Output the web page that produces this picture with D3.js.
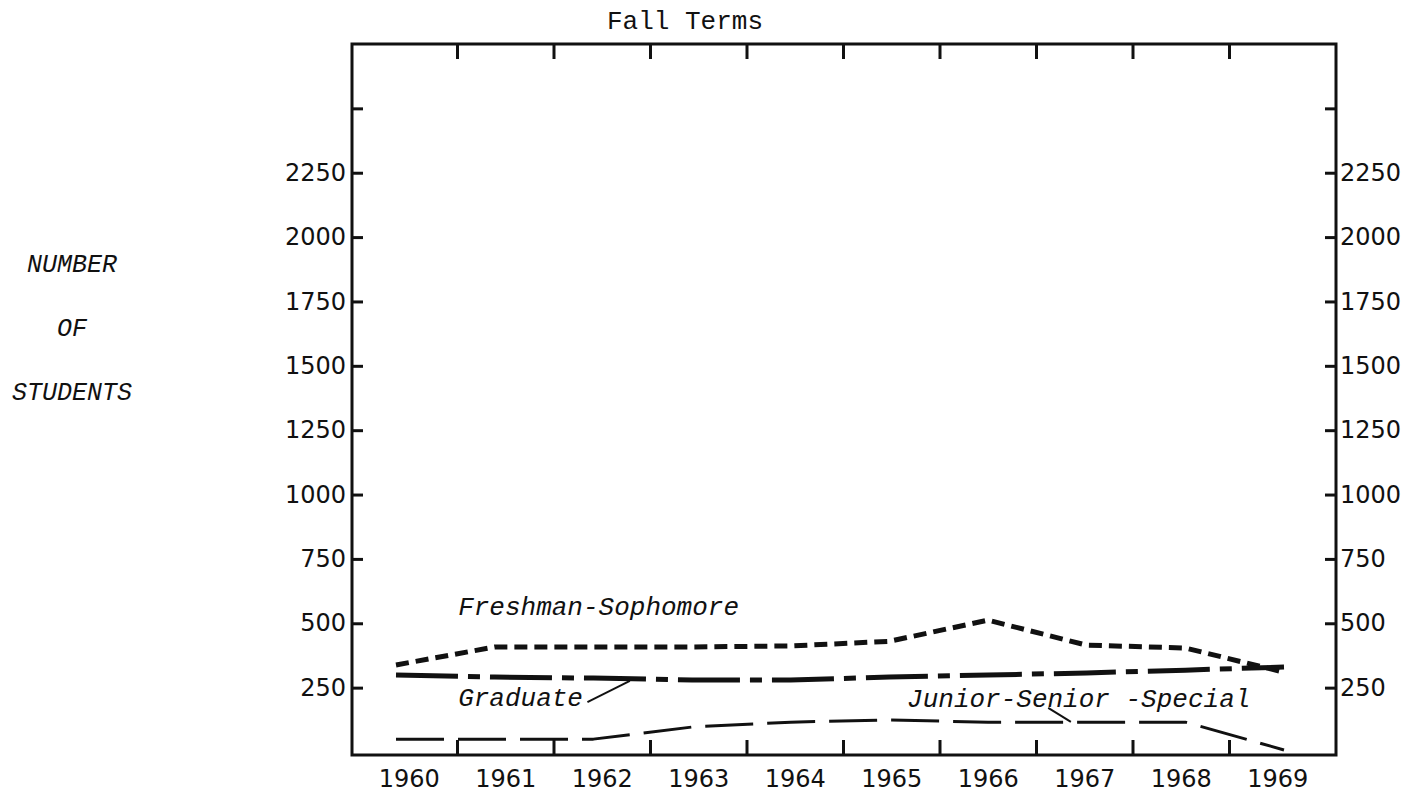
<!DOCTYPE html>
<html>
<head>
<meta charset="utf-8">
<script src="https://cdn.jsdelivr.net/npm/d3@7"></script>
<style>
  body { margin: 0; background: #fff; }
  svg { display: block; }
</style>
</head>
<body>
<script>
// data (fall terms)
const years = [1960, 1961, 1962, 1963, 1964, 1965, 1966, 1967, 1968, 1969];
const freshSoph = [338, 408, 408, 408, 412, 430, 512, 415, 404, 310];
const graduate = [299, 291, 287, 280, 280, 291, 299, 307, 318, 330];
const juniorSenior = [50, 50, 50, 97, 116, 124, 116, 116, 116, 8];

const yTickValues = [250, 500, 750, 1000, 1250, 1500, 1750, 2000, 2250, 2500];
const yTickLabels = [250, 500, 750, 1000, 1250, 1500, 1750, 2000, 2250];

const yLabelLines = ['NUMBER', 'OF', 'STUDENTS'];

// labels placed in data space (year, students)
const seriesLabels = [
  { text: 'Freshman-Sophomore', year: 1960.63, value: 532 },
  { text: 'Graduate', year: 1960.63, value: 179 },
  { text: 'Junior-Senior -Special', year: 1965.18, value: 175 }
];
const leaders = [
  { from: [1961.94, 194], to: [1962.37, 276] },
  { from: [1966.61, 171], to: [1966.84, 117] }
];

const chartWidth = 1419;
const chartHeight = 794;

const frame = { left: 352, right: 1336, top: 44, bottom: 755 };

const ink = '#111';
const monoFont = '"Liberation Mono", "DejaVu Sans Mono", monospace';
const tickFont = '"DejaVu Sans", sans-serif';

const svg = d3.select('body').append('svg')
    .attr('width', chartWidth)
    .attr('height', chartHeight);

// scales
const xBand = d3.scaleBand()
    .domain(years)
    .range([361, 1326]);

const xLine = d3.scaleLinear()
    .domain([1960, 1969])
    .range([396, 1284]);

const yScale = d3.scaleLinear()
    .domain([0, 2750])
    .range([752, 44]);

// title
svg.append('text')
    .attr('x', 685)
    .attr('y', 29)
    .attr('text-anchor', 'middle')
    .attr('font-family', monoFont)
    .attr('font-size', 26)
    .attr('fill', ink)
    .text('Fall Terms');

// y label
svg.append('g')
    .selectAll('text')
    .data(yLabelLines)
  .enter().append('text')
    .attr('x', 72)
    .attr('y', (d, i) => 272 + i * 64)
    .attr('text-anchor', 'middle')
    .attr('font-family', monoFont)
    .attr('font-style', 'italic')
    .attr('font-size', 25)
    .attr('fill', ink)
    .text(d => d);

// frame
svg.append('rect')
    .attr('x', frame.left)
    .attr('y', frame.top)
    .attr('width', frame.right - frame.left)
    .attr('height', frame.bottom - frame.top)
    .attr('fill', 'none')
    .attr('stroke', ink)
    .attr('stroke-width', 3);

// y axes, ticks pointing inwards
const fmt = d => yTickLabels.includes(d) ? d : '';

const leftAxis = svg.append('g')
    .attr('transform', `translate(${frame.left},0)`)
    .call(d3.axisLeft(yScale).tickValues(yTickValues).tickSize(-11).tickPadding(6).tickFormat(fmt));

const rightAxis = svg.append('g')
    .attr('transform', `translate(${frame.right},0)`)
    .call(d3.axisRight(yScale).tickValues(yTickValues).tickSize(-11).tickPadding(4).tickFormat(fmt));

// x axis labels
const bottomAxis = svg.append('g')
    .attr('transform', `translate(0,${frame.bottom})`)
    .call(d3.axisBottom(xBand).tickSize(0).tickPadding(15));

[leftAxis, rightAxis, bottomAxis].forEach(g => {
  g.select('.domain').remove();
  g.attr('font-family', tickFont).attr('font-size', 24);
  g.selectAll('text').attr('fill', ink);
  g.selectAll('line').attr('stroke', ink).attr('stroke-width', 3);
});

// x ticks sit between the years, on top and bottom
const boundaries = years.slice(1).map(y => xBand(y));

svg.append('g')
    .selectAll('line')
    .data(boundaries)
  .enter().append('line')
    .attr('x1', d => d)
    .attr('x2', d => d)
    .attr('y1', frame.top)
    .attr('y2', frame.top + 15)
    .attr('stroke', ink)
    .attr('stroke-width', 3);

svg.append('g')
    .selectAll('line')
    .data(boundaries)
  .enter().append('line')
    .attr('x1', d => d)
    .attr('x2', d => d)
    .attr('y1', frame.bottom)
    .attr('y2', frame.bottom - 15)
    .attr('stroke', ink)
    .attr('stroke-width', 3);

// series lines
const series = [
  { values: freshSoph, width: 5, dash: '13,7' },
  { values: graduate, width: 5, dash: '62,10,12,10' },
  { values: juniorSenior, width: 3, dash: '48,14' }
];

const line = d3.line()
    .x((d, i) => xLine(years[i]))
    .y(d => yScale(d));

svg.append('g')
    .selectAll('path')
    .data(series)
  .enter().append('path')
    .attr('d', d => line(d.values))
    .attr('fill', 'none')
    .attr('stroke', ink)
    .attr('stroke-width', d => d.width)
    .attr('stroke-dasharray', d => d.dash)
    .attr('stroke-linejoin', 'round');

// series labels and leader lines
svg.append('g')
    .selectAll('text')
    .data(seriesLabels)
  .enter().append('text')
    .attr('x', d => xLine(d.year))
    .attr('y', d => yScale(d.value))
    .attr('font-family', monoFont)
    .attr('font-style', 'italic')
    .attr('font-size', 26)
    .attr('fill', ink)
    .text(d => d.text);

svg.append('g')
    .selectAll('line')
    .data(leaders)
  .enter().append('line')
    .attr('x1', d => xLine(d.from[0]))
    .attr('y1', d => yScale(d.from[1]))
    .attr('x2', d => xLine(d.to[0]))
    .attr('y2', d => yScale(d.to[1]))
    .attr('stroke', ink)
    .attr('stroke-width', 2);
</script>
</body>
</html>
